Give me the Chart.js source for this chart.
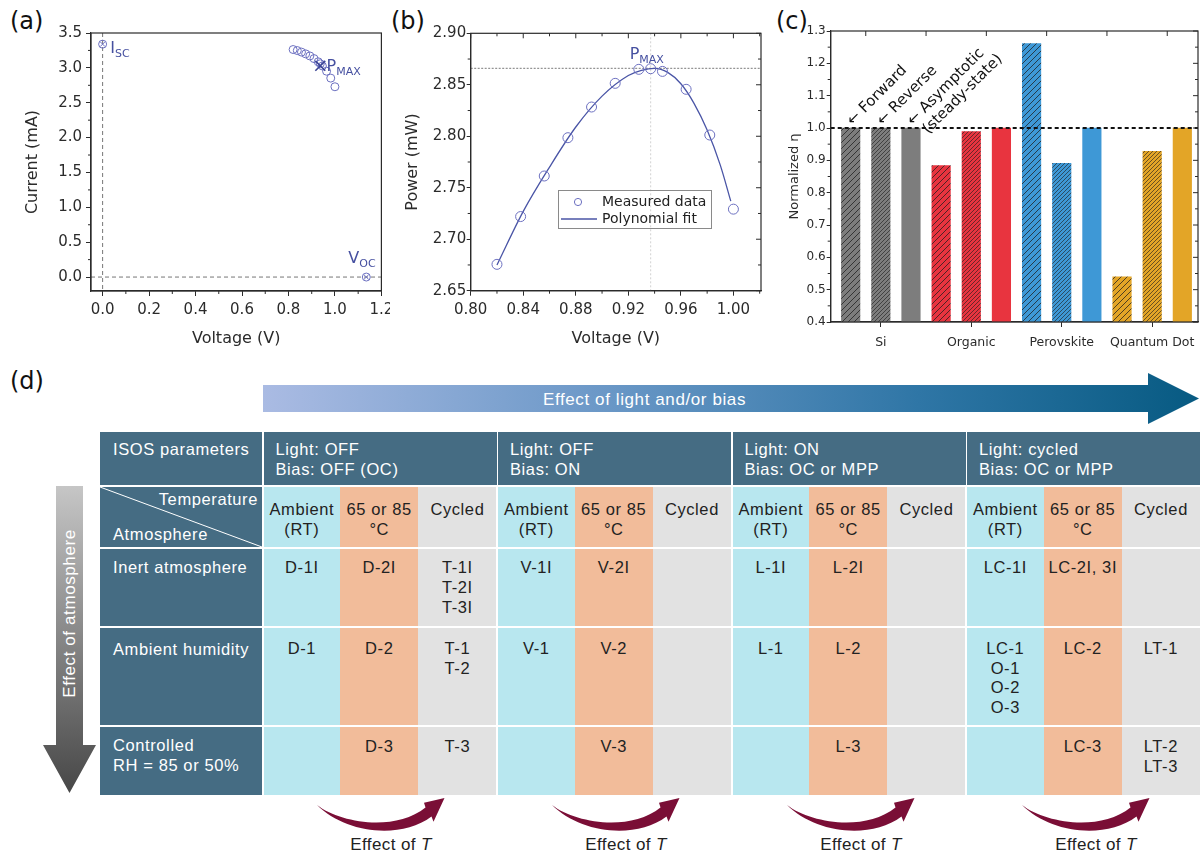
<!DOCTYPE html>
<html><head><meta charset="utf-8">
<script src="https://cdn.jsdelivr.net/npm/chart.js@4.4.1/dist/chart.umd.min.js"></script>
<style>
html,body{margin:0;padding:0;background:#fff;}
body{width:1200px;height:854px;position:relative;overflow:hidden;font-family:"Liberation Sans",Arial,sans-serif;}
.pl{position:absolute;font-family:"DejaVu Sans",sans-serif;font-size:24px;line-height:24px;color:#111;}
canvas{position:absolute;top:0;}
#tbl{position:absolute;left:100px;top:432px;width:1100px;height:363px;}
.cell{position:absolute;box-sizing:border-box;font-size:16.5px;letter-spacing:0.6px;line-height:20px;white-space:nowrap;}
#deco{position:absolute;left:0;top:0;}
</style>
</head><body>
<svg id="deco" width="1200" height="854" font-family="Liberation Sans, Arial, sans-serif">
 <defs>
  <linearGradient id="gBlue" x1="263" y1="0" x2="1199" y2="0" gradientUnits="userSpaceOnUse">
   <stop offset="0" stop-color="#aabbe3"/><stop offset="0.35" stop-color="#6d99c8"/><stop offset="0.7" stop-color="#2f76a6"/><stop offset="1" stop-color="#075a82"/>
  </linearGradient>
  <linearGradient id="gGray" x1="0" y1="486" x2="0" y2="793" gradientUnits="userSpaceOnUse">
   <stop offset="0" stop-color="#c6c6c6"/><stop offset="1" stop-color="#474747"/>
  </linearGradient>
 </defs>
 <polygon points="263,385 1148,385 1148,373 1199,398.5 1148,424 1148,412 263,412" fill="url(#gBlue)"/>
 <text x="543" y="405" fill="#fff" font-size="17" letter-spacing="0.6">Effect of light and/or bias</text>
 <polygon points="56,486 83,486 83,745 96,745 69.5,793 43,745 56,745" fill="url(#gGray)"/>
 <text transform="translate(69.5,613.5) rotate(-90)" text-anchor="middle" dominant-baseline="central" fill="#fff" font-size="17" letter-spacing="0.6">Effect of atmosphere</text>
 <g id="tArrows"></g>
</svg>

<div class="pl" style="left:10px;top:9px">(a)</div>
<div class="pl" style="left:391px;top:9px">(b)</div>
<div class="pl" style="left:776px;top:9px">(c)</div>
<div class="pl" style="left:10px;top:369px">(d)</div>

<canvas id="ca" width="390" height="355" style="left:0"></canvas>
<canvas id="cb" width="390" height="355" style="left:390px"></canvas>
<canvas id="cc" width="420" height="355" style="left:780px"></canvas>

<div id="tbl"></div>

<script>
// ---------------- DATA ----------------
// (a) I-V curve
const ivVoltage = [0.82, 0.838, 0.856, 0.874, 0.892, 0.910, 0.928, 0.937, 0.946, 0.964, 0.982, 1.000];
const ivCurrent = [3.263, 3.248, 3.226, 3.201, 3.171, 3.133, 3.087, 3.059, 3.027, 2.952, 2.853, 2.729];
const iscPoint = [0, 3.34];
const vocPoint = [1.135, 0];
const pmaxIV = [0.937, 3.03];
const voltageTicksA = [0.0, 0.2, 0.4, 0.6, 0.8, 1.0, 1.2];
const currentTicksA = [0.0, 0.5, 1.0, 1.5, 2.0, 2.5, 3.0, 3.5];

// (b) P-V curve
const pvVoltage = [0.82, 0.838, 0.856, 0.874, 0.892, 0.910, 0.928, 0.937, 0.946, 0.964, 0.982, 1.000];
const pvPower = [2.6756, 2.722, 2.7614, 2.7986, 2.8284, 2.8514, 2.865, 2.8656, 2.863, 2.8456, 2.8012, 2.7292];
const fitVoltage = [0.82, 0.84, 0.86, 0.88, 0.90, 0.92, 0.93, 0.94, 0.95, 0.96, 0.97, 0.98, 0.99, 0.998];
const fitPower = [2.675, 2.727, 2.770, 2.809, 2.839, 2.859, 2.864, 2.866, 2.862, 2.851, 2.832, 2.806, 2.772, 2.737];
const pmaxVoltage = 0.937;
const pmaxPower = 2.866;
const voltageTicksB = [0.80, 0.84, 0.88, 0.92, 0.96, 1.00];
const powerTicksB = [2.65, 2.70, 2.75, 2.80, 2.85, 2.90];

// (c) normalized efficiency
const categories = ['Si', 'Organic', 'Perovskite', 'Quantum Dot'];
const scanModes = ['Forward', 'Reverse', ['Asymptotic', '(steady-state)']];
const forwardEta = [1.0, 0.884, 1.261, 0.540];
const reverseEta = [1.0, 0.989, 0.891, 0.928];
const steadyEta = [1.0, 1.0, 1.0, 1.0];
const etaTicks = [0.4, 0.5, 0.6, 0.7, 0.8, 0.9, 1.0, 1.1, 1.2, 1.3];
const referenceEta = 1.0;

// (d) ISOS table
const groupHeaders = [['Light: OFF', 'Bias: OFF (OC)'], ['Light: OFF', 'Bias: ON'], ['Light: ON', 'Bias: OC or MPP'], ['Light: cycled', 'Bias: OC or MPP']];
const tempHeaders = [['Ambient', '(RT)'], ['65 or 85', '°C'], ['Cycled']];
const atmRows = [['Inert atmosphere'], ['Ambient humidity'], ['Controlled', 'RH = 85 or 50%']];
const cellValues = [
  [['D-1I'], ['D-2I'], ['T-1I', 'T-2I', 'T-3I'], ['V-1I'], ['V-2I'], [], ['L-1I'], ['L-2I'], [], ['LC-1I'], ['LC-2I, 3I'], []],
  [['D-1'], ['D-2'], ['T-1', 'T-2'], ['V-1'], ['V-2'], [], ['L-1'], ['L-2'], [], ['LC-1', 'O-1', 'O-2', 'O-3'], ['LC-2'], ['LT-1']],
  [[], ['D-3'], ['T-3'], [], ['V-3'], [], [], ['L-3'], [], [], ['LC-3'], ['LT-2', 'LT-3']]
];

// ---------------- HELPERS ----------------
const F = 'DejaVu Sans';
const AX = '#2b2b2b';
const BLUE_T = '#4650a0';
function fitY(w) { return s => { s.width = w; s.paddingTop = s.paddingBottom = s.paddingLeft = s.paddingRight = 0; }; }
function fitX(h) { return s => { s.height = h; s.paddingTop = s.paddingBottom = s.paddingLeft = s.paddingRight = 0; }; }
function fixedTicks(arr) { return s => { s.ticks = arr.map(v => ({ value: v })); }; }
function isMult(v, step) { const r = v / step; return Math.abs(r - Math.round(r)) < 1e-6; }
function stepsIn(min, max, step) { const out = []; const k0 = Math.ceil(min / step - 1e-9), k1 = Math.floor(max / step + 1e-9); for (let k = k0; k <= k1; k++) out.push(+(k * step).toFixed(6)); return out; }

function frameTicks(chart, o) {
  const { ctx, chartArea: a, scales: { x, y } } = chart;
  ctx.save();
  ctx.strokeStyle = AX; ctx.lineWidth = 1.2;
  ctx.strokeRect(a.left, a.top, a.right - a.left, a.bottom - a.top);
  ctx.lineWidth = 1; ctx.beginPath();
  if (o.yMinor) stepsIn(y.min, y.max, o.yMinor).forEach(v => {
    const p = y.getPixelForValue(v); const maj = isMult(v, o.yMajor);
    if (!maj && o.leftMinor) { ctx.moveTo(a.left, p); ctx.lineTo(a.left - 3, p); }
    if (o.right) { const L = maj ? 5 : 3; ctx.moveTo(a.right, p); ctx.lineTo(a.right - L, p); }
  });
  if (o.xMinor) stepsIn(x.min, x.max, o.xMinor).forEach(v => {
    const p = x.getPixelForValue(v); const maj = isMult(v, o.xMajor);
    if (!maj && o.bottomMinor) { ctx.moveTo(p, a.bottom); ctx.lineTo(p, a.bottom + 3); }
    if (o.top) { const L = maj ? 5 : 3; ctx.moveTo(p, a.top); ctx.lineTo(p, a.top + L); }
  });
  if (o.topAt) o.topAt.forEach(v => { const p = x.getPixelForValue(v); ctx.moveTo(p, a.top); ctx.lineTo(p, a.top + 5); });
  ctx.stroke();
  ctx.restore();
}
function subLabel(ctx, main, sub, x, y) {
  ctx.font = '16px ' + F; ctx.fillStyle = BLUE_T; ctx.textAlign = 'left'; ctx.textBaseline = 'alphabetic';
  ctx.fillText(main, x, y);
  const w = ctx.measureText(main).width;
  ctx.font = '11px ' + F; ctx.fillText(sub, x + w, y + 4);
}
function axisCommon(min, max, ticks, fmt, size, tl, pad) {
  return {
    type: 'linear', min, max, offset: false, afterBuildTicks: fixedTicks(ticks),
    ticks: { callback: v => v.toFixed(fmt), font: { family: F, size }, color: AX, padding: pad, maxRotation: 0, autoSkip: false },
    grid: { display: true, drawOnChartArea: false, drawTicks: true, tickLength: tl, tickColor: AX, tickWidth: 1, offset: false },
    border: { display: true, color: AX, width: 1.2 }
  };
}

// ---------------- CHART A ----------------
const xa = axisCommon(-0.05, 1.2, voltageTicksA, 1, 15, 5, 5.5);
xa.title = { display: true, text: 'Voltage (V)', font: { family: F, size: 16 }, color: AX, padding: { top: 0, bottom: 6.4 } };
xa.afterFit = fitX(64);
const ya = axisCommon(-0.2, 3.5, currentTicksA, 1, 15, 5, 4);
ya.title = { display: true, text: 'Current (mA)', font: { family: F, size: 16 }, color: AX, padding: { top: 23.4, bottom: 0 } };
ya.afterFit = fitY(91);
const MK = '#6c70c0';
new Chart(document.getElementById('ca'), {
  type: 'scatter',
  data: { datasets: [
    { label: 'PMAX', data: [{ x: pmaxIV[0], y: pmaxIV[1] }], pointStyle: 'crossRot', pointRadius: 7, borderColor: '#3c4595', borderWidth: 1.6, order: 0 },
    { label: 'I-V', data: ivVoltage.map((v, i) => ({ x: v, y: ivCurrent[i] })), pointStyle: 'circle', pointRadius: 4, borderColor: MK, backgroundColor: 'rgba(255,255,255,0)', borderWidth: 1, order: 1 },
    { label: 'Isc', data: [{ x: iscPoint[0], y: iscPoint[1] }], pointStyle: 'circle', pointRadius: 4, borderColor: MK, backgroundColor: 'rgba(255,255,255,0)', borderWidth: 1, order: 2 },
    { label: 'Isc x', data: [{ x: iscPoint[0], y: iscPoint[1] }], pointStyle: 'crossRot', pointRadius: 3.5, borderColor: MK, borderWidth: 1, order: 2 },
    { label: 'Voc', data: [{ x: vocPoint[0], y: vocPoint[1] }], pointStyle: 'circle', pointRadius: 4, borderColor: MK, backgroundColor: 'rgba(255,255,255,0)', borderWidth: 1, order: 2 },
    { label: 'Voc x', data: [{ x: vocPoint[0], y: vocPoint[1] }], pointStyle: 'crossRot', pointRadius: 3.5, borderColor: MK, borderWidth: 1, order: 2 }
  ] },
  options: {
    responsive: false, animation: false, devicePixelRatio: 1,
    layout: { padding: { left: 0, right: 8, top: 33, bottom: 0 } },
    plugins: { legend: { display: false }, tooltip: { enabled: false } },
    scales: { x: xa, y: ya }
  },
  plugins: [{
    id: 'aExtras',
    beforeDatasetsDraw(chart) {
      const { ctx, chartArea: a, scales: { x, y } } = chart;
      ctx.save(); ctx.strokeStyle = '#777'; ctx.lineWidth = 1; ctx.setLineDash([4, 3]);
      const x0 = x.getPixelForValue(0), y0 = y.getPixelForValue(0);
      ctx.beginPath(); ctx.moveTo(x0, a.top); ctx.lineTo(x0, a.bottom); ctx.moveTo(a.left, y0); ctx.lineTo(a.right, y0); ctx.stroke();
      ctx.restore();
    },
    afterDraw(chart) {
      frameTicks(chart, { yMinor: 0.25, yMajor: 0.5, leftMinor: true, xMinor: 0.1, xMajor: 0.2, bottomMinor: true });
      const { ctx, scales: { x, y } } = chart;
      ctx.save();
      subLabel(ctx, 'I', 'SC', x.getPixelForValue(iscPoint[0]) + 7.7, y.getPixelForValue(iscPoint[1]) + 8.6);
      subLabel(ctx, 'P', 'MAX', x.getPixelForValue(pmaxIV[0]) + 6.3, y.getPixelForValue(pmaxIV[1]) + 5.5);
      subLabel(ctx, 'V', 'OC', x.getPixelForValue(vocPoint[0]) - 18, y.getPixelForValue(vocPoint[1]) - 13.7);
      ctx.restore();
    }
  }]
});

// ---------------- CHART B ----------------
const xb = axisCommon(0.80, 1.021, voltageTicksB, 2, 15, 5, 5.5);
xb.title = { display: true, text: 'Voltage (V)', font: { family: F, size: 16 }, color: AX, padding: { top: 0, bottom: 6.4 } };
xb.afterFit = fitX(64.3);
const yb = axisCommon(2.65, 2.90, powerTicksB, 2, 15, 4, 0.5);
yb.title = { display: true, text: 'Power (mW)', font: { family: F, size: 16 }, color: AX, padding: { top: 13.7, bottom: 0 } };
yb.afterFit = fitY(80.7);
new Chart(document.getElementById('cb'), {
  type: 'scatter',
  data: { datasets: [
    { label: 'Measured data', data: pvVoltage.map((v, i) => ({ x: v, y: pvPower[i] })), pointStyle: 'circle', pointRadius: 5, borderColor: MK, backgroundColor: 'rgba(255,255,255,0)', borderWidth: 1, order: 0 },
    { label: 'Polynomial fit', data: fitVoltage.map((v, i) => ({ x: v, y: fitPower[i] })), showLine: true, pointRadius: 0, borderColor: '#4a55a6', borderWidth: 1.3, cubicInterpolationMode: 'monotone', order: 1 }
  ] },
  options: {
    responsive: false, animation: false, devicePixelRatio: 1,
    layout: { padding: { left: 0, right: 19, top: 33.3, bottom: 0 } },
    plugins: { legend: { display: false }, tooltip: { enabled: false } },
    scales: { x: xb, y: yb }
  },
  plugins: [{
    id: 'bExtras',
    beforeDatasetsDraw(chart) {
      const { ctx, chartArea: a, scales: { x, y } } = chart;
      ctx.save(); ctx.lineWidth = 1;
      const px = x.getPixelForValue(pmaxVoltage), py = y.getPixelForValue(pmaxPower);
      ctx.strokeStyle = '#d2d2d2'; ctx.setLineDash([2, 2]);
      ctx.beginPath(); ctx.moveTo(px, a.top); ctx.lineTo(px, a.bottom); ctx.stroke();
      ctx.strokeStyle = '#7a7a7a'; ctx.setLineDash([2, 1.5]);
      ctx.beginPath(); ctx.moveTo(a.left, py); ctx.lineTo(a.right, py); ctx.stroke();
      ctx.restore();
    },
    afterDraw(chart) {
      frameTicks(chart, { yMinor: 0.025, yMajor: 0.05, leftMinor: true, right: true, xMinor: 0.02, xMajor: 0.04, bottomMinor: true, top: true });
      const { ctx, scales: { x, y } } = chart;
      ctx.save();
      subLabel(ctx, 'P', 'MAX', x.getPixelForValue(pmaxVoltage) - 21, y.getPixelForValue(pmaxPower) - 9);
      // legend
      const ds = chart.data.datasets;
      const L = 168, T = 190, R = 321, B = 228;
      ctx.strokeStyle = '#8a8a8a'; ctx.lineWidth = 1; ctx.strokeRect(L + 0.5, T + 0.5, R - L, B - T);
      ctx.strokeStyle = ds[0].borderColor; ctx.beginPath(); ctx.arc(L + 20, T + 12, 3.6, 0, Math.PI * 2); ctx.stroke();
      ctx.strokeStyle = ds[1].borderColor; ctx.lineWidth = 1.3; ctx.beginPath(); ctx.moveTo(L + 3, T + 29); ctx.lineTo(L + 39, T + 29); ctx.stroke();
      ctx.fillStyle = '#222'; ctx.font = '14px ' + F; ctx.textBaseline = 'middle'; ctx.textAlign = 'left';
      ctx.fillText(ds[0].label, L + 44, T + 12);
      ctx.fillText(ds[1].label, L + 44, T + 29);
      ctx.restore();
    }
  }]
});

// ---------------- CHART C ----------------
function hatch(base, spacing, line, lw) {
  const s = spacing, c = document.createElement('canvas'); c.width = s; c.height = s;
  const g = c.getContext('2d'); g.fillStyle = base; g.fillRect(0, 0, s, s);
  g.strokeStyle = line; g.lineWidth = lw;
  g.beginPath(); g.moveTo(-1, s + 1); g.lineTo(s + 1, -1); g.moveTo(-1, 1); g.lineTo(1, -1); g.moveTo(s - 1, s + 1); g.lineTo(s + 1, s - 1); g.stroke();
  return g.createPattern(c, 'repeat');
}
const catColors = ['#7d7d7d', '#e8343f', '#3e98d6', '#e3a527'];
const barX = [], barY = [], barFill = [];
categories.forEach((c, g) => {
  [forwardEta[g], reverseEta[g], steadyEta[g]].forEach((v, m) => {
    barX.push(3 * g + m + 1); barY.push(v);
    barFill.push(m === 0 ? hatch(catColors[g], 6, 'rgba(30,30,30,0.75)', 1) : m === 1 ? hatch(catColors[g], 4, 'rgba(30,30,30,0.7)', 0.9) : catColors[g]);
  });
});
const catTickX = categories.map((c, g) => 3 * g + 2);
const xc = {
  type: 'linear', min: 0.337, max: 12.52, offset: false, afterBuildTicks: fixedTicks(catTickX),
  ticks: { callback: v => categories[catTickX.indexOf(v)], font: { family: F, size: 12.5 }, color: AX, padding: 8, maxRotation: 0, autoSkip: false },
  grid: { display: true, drawOnChartArea: false, drawTicks: true, tickLength: 5, tickColor: AX, offset: false },
  border: { display: true, color: AX, width: 1.2 },
  afterFit: fitX(33)
};
const yc = axisCommon(0.4, 1.3, etaTicks, 1, 12, 4, 1);
yc.title = { display: true, text: 'Normalized η', font: { family: F, size: 13 }, color: AX, padding: { top: 7.2, bottom: 0 } };
yc.afterFit = fitY(50.7);
new Chart(document.getElementById('cc'), {
  type: 'bar',
  data: { datasets: [{ label: 'eta', data: barX.map((x, i) => ({ x, y: barY[i] })), backgroundColor: barFill, borderWidth: 0, barThickness: 18.5 }] },
  options: {
    responsive: false, animation: false, devicePixelRatio: 1,
    layout: { padding: { left: 0, right: 2, top: 31, bottom: 0 } },
    plugins: { legend: { display: false }, tooltip: { enabled: false } },
    scales: { x: xc, y: yc }
  },
  plugins: [{
    id: 'cExtras',
    afterDatasetsDraw(chart) {
      const { ctx, chartArea: a, scales: { x, y } } = chart;
      ctx.save();
      const yp = y.getPixelForValue(referenceEta);
      ctx.setLineDash([4, 3]); ctx.lineWidth = 2; ctx.strokeStyle = '#111';
      ctx.beginPath(); ctx.moveTo(a.left, yp); ctx.lineTo(a.right, yp); ctx.stroke();
      ctx.setLineDash([]);
      ctx.font = '15px ' + F; ctx.fillStyle = '#111'; ctx.textBaseline = 'middle'; ctx.textAlign = 'left';
      scanModes.forEach((m, i) => {
        const lines = Array.isArray(m) ? m : [m];
        const bx = x.getPixelForValue(barX[i]), by = y.getPixelForValue(barY[i]);
        ctx.save(); ctx.translate(bx - 1, by - 5); ctx.rotate(-Math.PI / 4);
        ctx.fillText('\u2190 ' + lines[0], 0, 0);
        if (lines[1]) ctx.fillText(lines[1], 5, 17);
        ctx.restore();
      });
      ctx.restore();
    },
    afterDraw(chart) {
      frameTicks(chart, { yMinor: 0.05, yMajor: 0.1, leftMinor: true, right: true, topAt: [1.5, 3.5, 5.5, 7.5, 9.5, 11.5] });
    }
  }]
});

// ---------------- TABLE ----------------
const T = document.getElementById('tbl');
const COLX = [0, 162]; for (let i = 1; i <= 12; i++) COLX.push(162 + i * 938 / 12);
const ROWY = [0, 54, 116, 195, 294, 363];
const ROWPAD = [7.3, 13.3, 9.3, 12.3, 10.3];
const SUBBG = ['#b8e7ef', '#f2bc9a', '#e2e2e2'];
const DARK = '#456c83';
function cell(c0, c1, r, bg, lines, align, color, padLeft, lh) {
  const d = document.createElement('div'); d.className = 'cell';
  const gapL = (c0 === 1 || c0 === 4 || c0 === 7 || c0 === 10) ? 1.5 : 0;
  const top = ROWY[r] + (r > 0 ? 1 : 0), bot = ROWY[r + 1] - (r < 4 ? 1 : 0);
  d.style.left = (COLX[c0] + gapL) + 'px'; d.style.width = (COLX[c1] - COLX[c0] - gapL) + 'px';
  d.style.top = top + 'px'; d.style.height = (bot - top) + 'px';
  d.style.background = bg; d.style.color = color; d.style.textAlign = align;
  d.style.paddingTop = (ROWPAD[r] - (top - ROWY[r])) + 'px';
  if (padLeft) d.style.paddingLeft = padLeft + 'px';
  if (lh) d.style.lineHeight = lh + 'px';
  d.innerHTML = lines.join('<br>');
  T.appendChild(d);
  return d;
}
cell(0, 1, 0, DARK, ['ISOS parameters'], 'left', '#fff', 13);
groupHeaders.forEach((h, g) => cell(1 + 3 * g, 4 + 3 * g, 0, DARK, h, 'left', '#fff', 12));
const corner = cell(0, 1, 1, DARK, [], 'left', '#fff', 0);
corner.innerHTML = '<svg width="162" height="60" style="position:absolute;left:0;top:0"><line x1="0" y1="0" x2="162" y2="60" stroke="#fff" stroke-width="1"/></svg>' +
  '<div style="position:absolute;right:4px;top:2px">Temperature</div><div style="position:absolute;left:13px;top:37px">Atmosphere</div>';
for (let g = 0; g < 4; g++) for (let k = 0; k < 3; k++) cell(1 + 3 * g + k, 2 + 3 * g + k, 1, SUBBG[k], tempHeaders[k], 'center', '#222');
atmRows.forEach((lab, ri) => {
  const r = ri + 2;
  cell(0, 1, r, DARK, lab, 'left', '#fff', 13, r === 4 ? 19.5 : 20);
  for (let c = 0; c < 12; c++) cell(1 + c, 2 + c, r, SUBBG[c % 3], cellValues[ri][c], 'center', '#222', 0, r === 3 ? 19.5 : 20);
});

// ---------------- EFFECT OF T ARROWS ----------------
const tg = document.getElementById('tArrows');
let svgStr = '';
for (let g = 0; g < 4; g++) {
  const dx = g * 235;
  svgStr += '<g transform="translate(' + dx + ',0)">' +
    '<path d="M317,805 C340,823 395,832 425.5,807.5 L424,802.7 L444.5,798 L433.5,821.7 L431.5,816.5 C400,840 345,833 317,805 Z" fill="#7a0e36"/>' +
    '<text x="391" y="850" text-anchor="middle" font-size="17" letter-spacing="0.4" fill="#222">Effect of <tspan font-style="italic">T</tspan></text></g>';
}
tg.innerHTML = svgStr;
</script>
</body></html>
